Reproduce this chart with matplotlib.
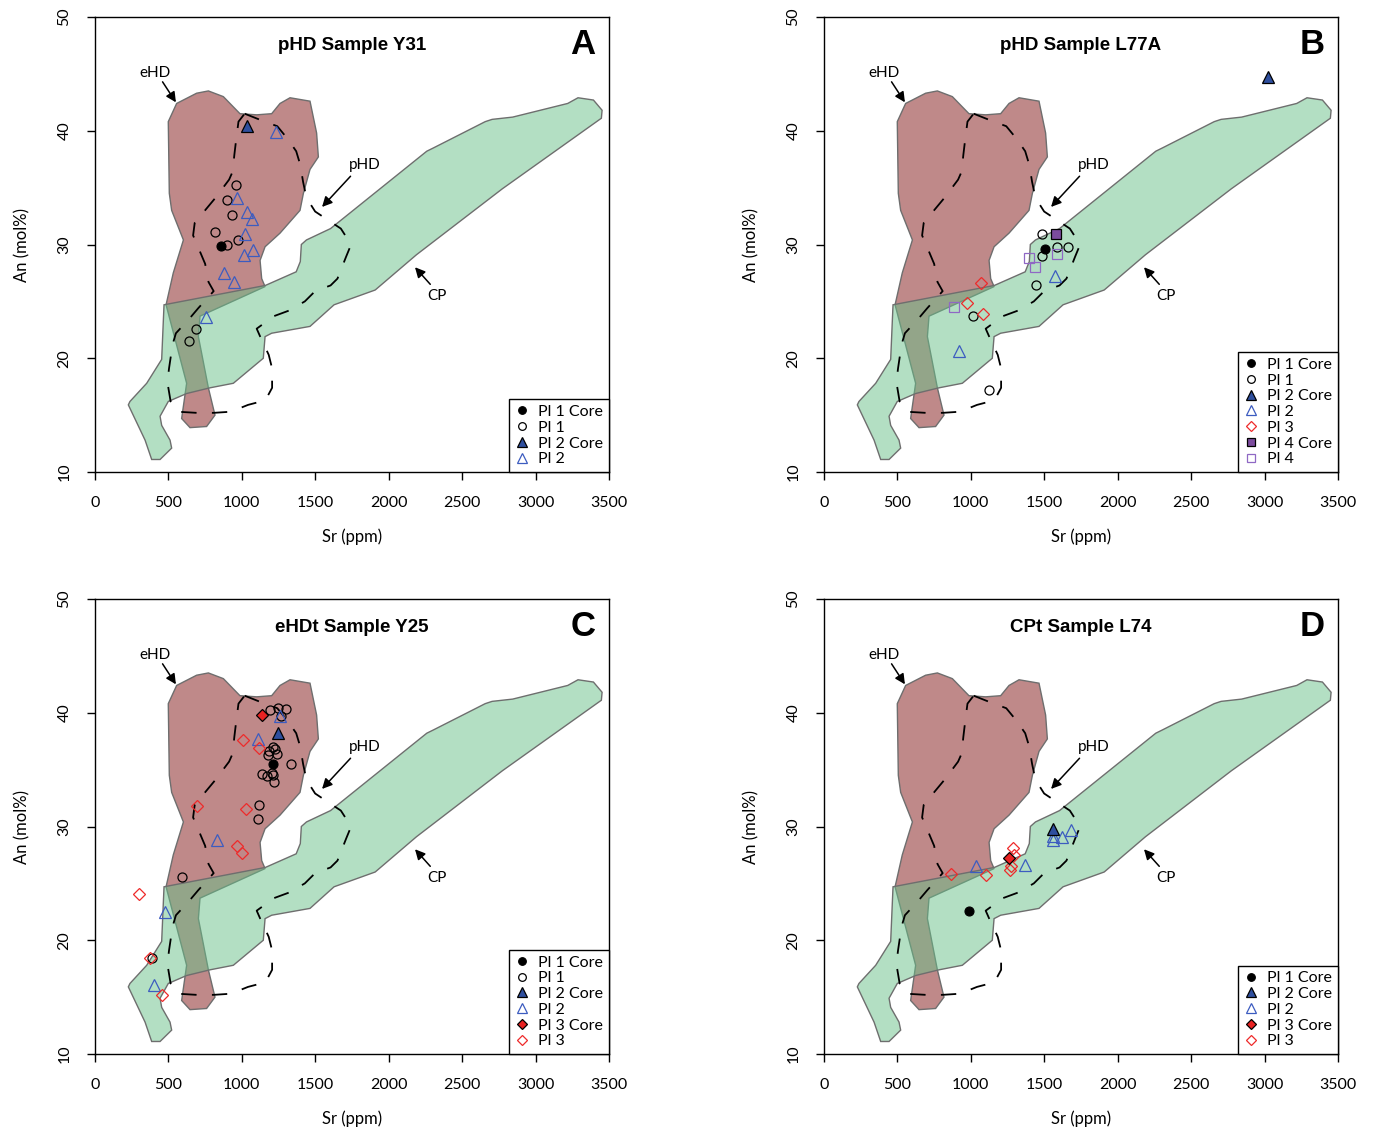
import matplotlib
matplotlib.use("Agg")
import matplotlib.pyplot as plt
from matplotlib.lines import Line2D
from matplotlib.patches import Polygon

# field outlines (Sr ppm, An mol%)
ehd_x = [499, 556, 692, 772, 874, 987, 1101, 1203, 1260, 1328, 1464, 1509, 1521, 1464, 1419,
         1396, 1260, 1158, 1124, 1135, 1158, 715, 704, 772, 817, 760, 647, 590, 624, 484,
         533, 602, 522, 506]
ehd_y = [40.8, 42.4, 43.3, 43.5, 43.0, 41.5, 41.4, 41.5, 42.4, 42.9, 42.6, 39.8, 37.7, 36.6, 34.5,
         33.0, 31.0, 29.8, 28.6, 27.0, 26.3, 23.7, 21.9, 17.4, 15.0, 14.0, 13.9, 14.7, 17.8, 24.7,
         27.5, 30.4, 33.0, 34.5]

cp_x = [470, 1160, 1370, 1398, 1405, 1440, 1604, 2259, 2306, 2657, 2704, 2844, 3219, 3289,
        3394, 3453, 3448, 2774, 2189, 1908, 1628, 1464, 1203, 1158, 1146, 942, 783, 624, 499,
        443, 454, 511, 522, 443, 386, 341, 227, 238, 352, 454]
cp_y = [24.7, 26.4, 27.6, 28.5, 30.0, 30.4, 31.4, 38.2, 38.5, 40.8, 41.0, 41.2, 42.4, 42.9,
        42.7, 41.8, 41.1, 34.9, 29.1, 26.0, 24.7, 22.8, 22.2, 21.9, 20.0, 17.8, 17.4, 16.9, 16.2,
        14.9, 14.1, 12.8, 12.1, 11.1, 11.1, 12.8, 15.9, 16.2, 17.8, 19.9]

phd_x = [1019, 1136, 1241, 1311, 1370, 1398, 1417, 1440, 1499, 1604, 1674, 1744, 1709, 1651,
         1604, 1499, 1429, 1323, 1218, 1101, 1125, 1183, 1206, 1206, 1160, 1042, 926, 808, 692,
         563, 515, 493, 504, 528, 551, 644, 703, 808, 773, 750, 714, 668, 679, 762, 820, 913,
         937, 949, 961, 977]
phd_y = [41.5, 40.9, 40.4, 39.3, 38.2, 37.0, 35.5, 34.1, 32.9, 32.0, 31.4, 30.0, 28.9, 27.0,
         26.4, 25.9, 25.0, 24.2, 23.7, 22.6, 21.9, 20.3, 19.1, 17.4, 16.3, 15.9, 15.3, 15.2, 15.2,
         15.3, 16.2, 17.9, 19.1, 21.2, 22.2, 23.5, 24.4, 25.9, 26.7, 28.3, 29.4, 30.8, 31.9, 33.2,
         34.1, 35.7, 36.4, 37.9, 39.2, 40.8]

# analyses per panel: {group: (Sr, An)}
a_data = {
    "Pl 1 Core": ([856], [29.9]),
    "Pl 1": ([961, 897, 932, 820, 977, 897, 687, 640],
             [35.2, 33.9, 32.6, 31.1, 30.4, 30.0, 22.6, 21.5]),
    "Pl 2 Core": ([1035], [40.4]),
    "Pl 2": ([1234, 967, 1038, 1066, 1019, 1075, 1014, 878, 948, 755],
             [39.9, 34.1, 32.9, 32.2, 30.9, 29.5, 29.1, 27.5, 26.7, 23.6]),
}
b_data = {
    "Pl 1 Core": ([1505], [29.6]),
    "Pl 1": ([1487, 1584, 1664, 1482, 1441, 1012, 1126],
             [30.9, 29.8, 29.8, 29.0, 26.4, 23.7, 17.2]),
    "Pl 2 Core": ([3023], [44.7]),
    "Pl 2": ([1573, 919], [27.2, 20.6]),
    "Pl 3": ([1069, 971, 1085], [26.6, 24.9, 23.9]),
    "Pl 4 Core": ([1580], [30.9]),
    "Pl 4": ([1398, 1437, 1584, 885], [28.8, 28.0, 29.2, 24.5]),
}
c_data = {
    "Pl 1 Core": ([1214], [35.5]),
    "Pl 1": ([1192, 1248, 1301, 1264, 1210, 1187, 1226, 1237, 1180, 1332, 1135, 1203, 1214,
              1169, 1221, 1119, 1108, 590, 386],
             [40.2, 40.4, 40.3, 39.7, 37.0, 36.6, 36.8, 36.4, 36.3, 35.5, 34.6, 34.7, 34.5,
              34.4, 33.9, 31.9, 30.7, 25.6, 18.4]),
    "Pl 2 Core": ([1248], [38.2]),
    "Pl 2": ([1260, 1108, 829, 477, 402], [39.7, 37.7, 28.8, 22.5, 16.1]),
    "Pl 3 Core": ([1135], [39.8]),
    "Pl 3": ([1010, 1117, 692, 1028, 965, 999, 300, 375, 454],
             [37.6, 36.9, 31.8, 31.5, 28.3, 27.7, 24.1, 18.4, 15.2]),
}
d_data = {
    "Pl 1 Core": ([987], [22.6]),
    "Pl 2 Core": ([1562], [29.8]),
    "Pl 2": ([1680, 1618, 1562, 1562, 1369, 1035], [29.7, 29.1, 29.2, 28.8, 26.6, 26.5]),
    "Pl 3 Core": ([1260], [27.2]),
    "Pl 3": ([1285, 1294, 1271, 1267, 863, 1103], [28.1, 27.5, 26.5, 26.2, 25.8, 25.7]),
}

titles = ["pHD Sample Y31", "pHD Sample L77A", "eHDt Sample Y25", "CPt Sample L74"]
letters = ["A", "B", "C", "D"]
panels = [a_data, b_data, c_data, d_data]

styles = {
    "Pl 1 Core": dict(marker="o", ms=6.5, mfc="black", mec="black", mew=0.8),
    "Pl 1": dict(marker="o", ms=6.5, mfc="none", mec="black", mew=0.9),
    "Pl 2 Core": dict(marker="^", ms=8, mfc="#2f4f9e", mec="black", mew=0.9),
    "Pl 2": dict(marker="^", ms=8, mfc="none", mec="#3c5cc0", mew=0.9),
    "Pl 3 Core": dict(marker="D", ms=6.5, mfc="#e82222", mec="black", mew=0.9),
    "Pl 3": dict(marker="D", ms=6.5, mfc="none", mec="#ee2a2a", mew=0.9),
    "Pl 4 Core": dict(marker="s", ms=6.5, mfc="#7c4c9e", mec="black", mew=0.9),
    "Pl 4": dict(marker="s", ms=6.5, mfc="none", mec="#8f68c4", mew=0.9),
}

LAB_FONT = "Lato"

fig = plt.figure(figsize=(13.74, 11.31), dpi=100)
W, H = 1374, 1131
boxes = [(95, 17), (824, 17), (95, 599), (824, 599)]

for i, data in enumerate(panels):
    left, top = boxes[i]
    ax = fig.add_axes([left / W, 1 - (top + 455) / H, 514 / W, 455 / H])

    ax.add_patch(Polygon(list(zip(ehd_x, ehd_y)), closed=True,
                         facecolor=(0.50, 0.08, 0.08, 0.5), edgecolor="#6e6e6e", lw=1, zorder=1))
    ax.add_patch(Polygon(list(zip(cp_x, cp_y)), closed=True,
                         facecolor=(0.41, 0.757, 0.537, 0.5), edgecolor="#6e6e6e", lw=1, zorder=2))
    ax.plot(phd_x + phd_x[:1], phd_y + phd_y[:1], color="black", lw=1.3,
            linestyle=(0, (8.5, 8.5)), zorder=3)

    # field labels
    arw = dict(arrowstyle="-|>", color="black", lw=1.1, mutation_scale=15, shrinkA=0, shrinkB=0)
    ax.annotate("", xy=(551, 42.5), xytext=(460, 44.3), arrowprops=arw, zorder=4)
    ax.text(410, 45.1, "eHD", ha="center", va="center", fontsize=11, family=LAB_FONT)
    ax.annotate("", xy=(1546, 33.3), xytext=(1740, 36.0), arrowprops=arw, zorder=4)
    ax.text(1840, 37.0, "pHD", ha="center", va="center", fontsize=11, family=LAB_FONT)
    ax.annotate("", xy=(2179, 28.0), xytext=(2283, 26.5), arrowprops=arw, zorder=4)
    ax.text(2330, 25.5, "CP", ha="center", va="center", fontsize=11, family=LAB_FONT)

    handles = []
    for name in styles:
        if name not in data:
            continue
        xs, ys = data[name]
        z = 6 if "Core" in name else 5
        ax.plot(xs, ys, linestyle="none", zorder=z, **styles[name])
        st = dict(styles[name])
        st["ms"] = st["ms"] * 0.85
        handles.append(Line2D([], [], linestyle="none", label=name, **st))

    leg = ax.legend(handles=handles, loc="lower right", borderaxespad=0, fancybox=False,
                    edgecolor="black", framealpha=1, handlelength=0.9, handletextpad=0.6,
                    labelspacing=0.1, borderpad=0.35, prop=dict(family=LAB_FONT, size=11.5))
    leg.get_frame().set_linewidth(1)
    leg.set_zorder(10)

    ax.text(0.5, 1 - 28 / 455, titles[i], transform=ax.transAxes, ha="center", va="center",
            fontsize=13.5, fontweight="bold", family="Liberation Sans")
    ax.text(0.949, 1 - 28 / 455, letters[i], transform=ax.transAxes, ha="center", va="center",
            fontsize=25, fontweight="bold", family="Liberation Sans")

    ax.set_xlim(0, 3500)
    ax.set_ylim(10, 50)
    ax.set_xticks(range(0, 3501, 500))
    ax.set_yticks(range(10, 51, 10))
    ax.tick_params(direction="out", length=6, width=1, pad=11, labelsize=11.5)
    for lab in ax.get_xticklabels() + ax.get_yticklabels():
        lab.set_family(LAB_FONT)
    plt.setp(ax.get_yticklabels(), rotation=90, va="center")
    for sp in ax.spines.values():
        sp.set_linewidth(1)

    ax.set_xlabel("Sr (ppm)", fontsize=12, family=LAB_FONT)
    ax.set_ylabel("An (mol%)", fontsize=12, family=LAB_FONT)
    ax.xaxis.set_label_coords(0.5, -65 / 455)
    ax.xaxis.label.set_va("center")
    ax.yaxis.set_label_coords(-73 / 514, 0.5)
    ax.yaxis.label.set_va("center")

fig.savefig("out.png", dpi=100)
